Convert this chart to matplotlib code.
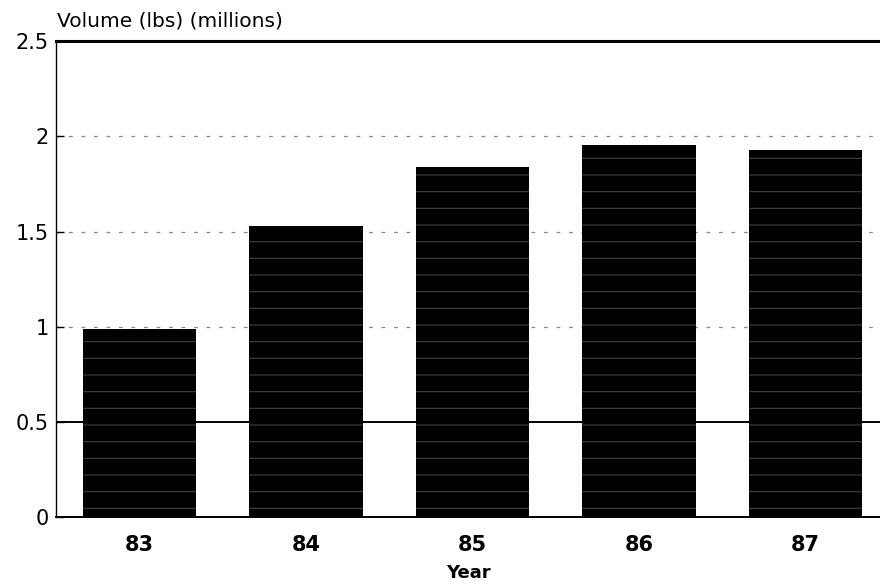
import matplotlib
matplotlib.use('Agg')
import matplotlib.pyplot as plt
import numpy as np

years = ['83', '84', '85', '86', '87']
volume = [0.99, 1.53, 1.84, 1.955, 1.93]   # millions of lbs

plt.rcParams['font.family'] = ['DejaVu Sans']
plt.rcParams['hatch.linewidth'] = 0.8

fig = plt.figure(figsize=(8.8, 5.87), dpi=100)
ax = fig.add_axes([0.0636, 0.119, 0.9364, 0.811])

x = np.arange(len(years))

# gridlines behind the bars
ax.axhline(0.5, color='black', lw=1.4, zorder=0)
for g in [1.0, 1.5, 2.0]:
    ax.axhline(g, color='#888888', lw=0.9, ls=(0, (3, 7)), zorder=0)

ax.bar(x, volume, width=0.68, color='black', zorder=2)
# faint speckled rows over the fill
ax.bar(x, volume, width=0.68, facecolor='none', edgecolor='#404040',
       hatch='-', lw=0, zorder=3)

ax.set_xlim(-0.5, 4.446)
ax.set_ylim(0, 2.5)
ax.set_yticks([0, 0.5, 1, 1.5, 2, 2.5])
ax.set_yticklabels(['0', '0.5', '1', '1.5', '2', '2.5'], fontsize=15)
ax.set_xticks(x)
ax.set_xticklabels(years, fontsize=15, fontweight='bold')
ax.tick_params(axis='y', direction='in', length=6, width=1, pad=5)
ax.tick_params(axis='x', length=0, pad=13)

ax.spines['right'].set_visible(False)
ax.spines['left'].set_linewidth(1.0)
ax.spines['bottom'].set_linewidth(1.4)
ax.spines['top'].set_linewidth(2.2)

ax.set_xlabel('Year', fontsize=13, fontweight='bold', labelpad=6)
fig.text(0.065, 0.955, 'Volume (lbs) (millions)', fontsize=14.5)

fig.savefig('out.png', dpi=100)
